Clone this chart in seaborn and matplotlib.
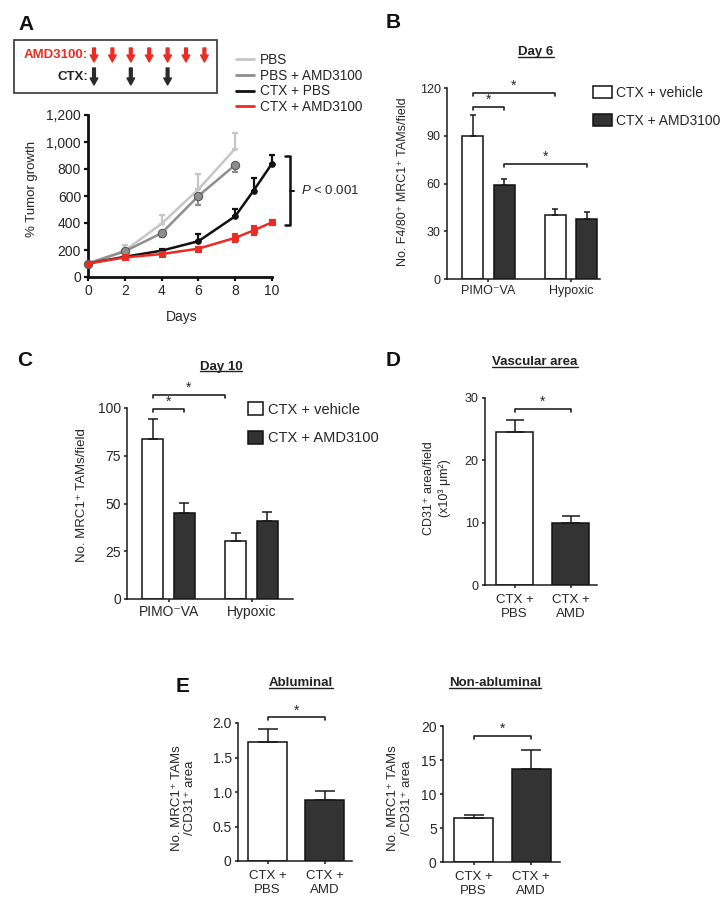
import numpy as np
import pandas as pd
import matplotlib
matplotlib.use('Agg')
import matplotlib.pyplot as plt
import matplotlib.transforms as mtransforms
from matplotlib.patches import Patch, Rectangle
from matplotlib.lines import Line2D
from matplotlib.ticker import StrMethodFormatter
import seaborn as sns

sns.set_style('ticks')
plt.rcParams['font.family'] = ['Liberation Sans', 'DejaVu Sans']
plt.rcParams['mathtext.fontset'] = 'custom'
plt.rcParams['mathtext.it'] = 'Liberation Sans:italic'
plt.rcParams['mathtext.rm'] = 'Liberation Sans'

# ---- panel A : tumour growth curves ----
days_long = [0, 2, 4, 6, 8, 9, 10]
days_short = [0, 2, 4, 6, 8]
pbs = [100, 195, 395, 650, 950]
pbs_hi = [0, 40, 65, 110, 120]
pbs_amd = [100, 190, 325, 600, 830]
pbs_amd_lo = [0, 20, 25, 65, 55]
ctx_pbs = [100, 150, 195, 265, 450, 640, 840]
ctx_pbs_hi = [0, 0, 15, 50, 55, 90, 65]
ctx_amd = [100, 145, 170, 210, 290, 345, 405]
ctx_amd_err = [0, 10, 10, 15, 30, 35, 20]
amd_dose_days = [0, 1, 2, 3, 4, 5, 6]
ctx_dose_days = [0, 2, 4]

# ---- panels B / C : TAM counts ----
sites = ['PIMO\u207bVA', 'Hypoxic']
treatments = ['CTX + vehicle', 'CTX + AMD3100']
day6_vehicle = [90, 40]
day6_vehicle_err = [13, 4.2]
day6_amd = [59, 38]
day6_amd_err = [4, 4]
day10_vehicle = [84, 30.5]
day10_vehicle_err = [10, 4.2]
day10_amd = [45, 41]
day10_amd_err = [5.2, 4.3]

# ---- panels D / E ----
conditions = ['CTX +\nPBS', 'CTX +\nAMD']
vasc = [24.6, 10.0]
vasc_err = [1.8, 1.05]
ablum = [1.72, 0.89]
ablum_err = [0.19, 0.13]
nonablum = [6.5, 13.7]
nonablum_err = [0.4, 2.8]

RED = '#ec2b24'
DARK = '#333333'
W, H = 728, 914
fig = plt.figure(figsize=(W / 100, H / 100), dpi=100)


def px_box(l, t, r, b):
    return [l / W, 1 - b / H, (r - l) / W, (b - t) / H]


def fx(x):
    return x / W


def fy(y):
    return 1 - y / H


def style_axes(ax, lw=1.1, size=9):
    sns.despine(ax=ax)
    for s in ['left', 'bottom']:
        ax.spines[s].set_linewidth(lw)
        ax.spines[s].set_color('#1a1a1a')
    ax.tick_params(direction='out', length=2.5, width=lw, labelsize=size,
                   color='#1a1a1a', pad=2)
    ax.set_xlabel('')
    ax.set_ylabel('')


def add_errors(ax, errs, capsize):
    for bar, e in zip(ax.patches, errs):
        x = bar.get_x() + bar.get_width() / 2
        ax.errorbar(x, bar.get_height(), yerr=[[0], [e]], fmt='none',
                    ecolor='#1a1a1a', elinewidth=1.1, capsize=capsize,
                    capthick=1.1, zorder=1)


def add_brackets(ax, specs, px_per_unit, fs=10):
    drop = 3 / px_per_unit
    for i, j, y, side in specs:
        b1, b2 = ax.patches[i], ax.patches[j]
        x1 = b1.get_x() + b1.get_width() / 2
        x2 = b2.get_x() + (b2.get_width() / 2 if side == 'c' else 0)
        ax.plot([x1, x1, x2, x2], [y - drop, y, y, y - drop], color='#222',
                lw=1.2, clip_on=False)
        ax.annotate('*', xy=((x1 + x2) / 2, y), xytext=(0, 5),
                    textcoords='offset points', ha='center', va='center',
                    fontsize=fs, annotation_clip=False)


def title(x, y, s):
    return fig.text(fx(x), fy(y), s, ha='center', va='center', fontsize=9.5,
                    fontweight='bold', color='#222',
                    family=['Liberation Sans Narrow', 'Liberation Sans', 'DejaVu Sans'])


def panel_label(x, y, s):
    fig.text(fx(x), fy(y), s, ha='center', va='center', fontsize=15,
             fontweight='bold', color='#111')


# ================= Panel A =================
axA = fig.add_axes(px_box(88, 115, 272, 277))
series = [
    ('PBS', days_short, pbs, [0] * 5, pbs_hi, '#c6c6c6', '.', 3),
    ('PBS + AMD3100', days_short, pbs_amd, pbs_amd_lo, [0] * 5, '#8e8e8e', 'o', 6),
    ('CTX + PBS', days_long, ctx_pbs, [0] * 7, ctx_pbs_hi, '#111111', 'o', 4),
    ('CTX + AMD3100', days_long, ctx_amd, ctx_amd_err, ctx_amd_err, RED, 's', 4),
]
for name, d, v, lo, hi, c, m, ms in series:
    axA.errorbar(d, v, yerr=[lo, hi], fmt='none', ecolor=c, elinewidth=1.6,
                 capsize=2, capthick=1.6, clip_on=False, zorder=2)
    sns.lineplot(x=d, y=v, color=c, marker=m, markersize=ms, lw=1.8,
                 markeredgecolor='#555' if name == 'PBS + AMD3100' else c,
                 ax=axA, clip_on=False, zorder=3)
axA.set_xlim(0, 10)
axA.set_ylim(0, 1200)
axA.set_xticks(range(0, 11, 2))
axA.set_yticks(range(0, 1201, 200))
axA.yaxis.set_major_formatter(StrMethodFormatter('{x:,.0f}'))
sns.despine(ax=axA)
for s in ['left', 'bottom']:
    axA.spines[s].set_linewidth(2)
    axA.spines[s].set_color('#111')
axA.tick_params(direction='out', length=3, width=1.6, labelsize=10, pad=2, color='#111')
axA.set_xlabel('')
axA.set_ylabel('')
fig.text(fx(32), fy(189), '% Tumor growth', rotation=90, ha='center', va='center', fontsize=9.5)
fig.text(fx(182), fy(317), 'Days', ha='center', va='center', fontsize=10)

# P-value bracket
axA.plot([10.7, 11.0, 11.0, 10.7], [895, 895, 383, 383], color='#111', lw=1.8, clip_on=False)
axA.plot([11.0, 11.2], [640, 640], color='#111', lw=1.4, clip_on=False)
axA.text(11.6, 640, r'$P$ < 0.001', ha='left', va='center', fontsize=9.5, clip_on=False)

lg = fig.legend([Line2D([], [], color=s[5], lw=2) for s in series],
                [s[0] for s in series], loc='upper left',
                bbox_to_anchor=(fx(236), fy(53)), frameon=False, fontsize=9.8,
                handlelength=1.35, handletextpad=0.4, labelspacing=0.12,
                borderpad=0, borderaxespad=0)

# dosing schedule box
fig.add_artist(Rectangle((fx(14), fy(93)), (217 - 14) / W, (93 - 40) / H,
                         transform=fig.transFigure, fill=False, ec='#444', lw=1.3))
fig.text(fx(88), fy(55), 'AMD3100:', ha='right', va='center', fontsize=9.5,
         fontweight='bold', color=RED)
fig.text(fx(88), fy(77), 'CTX:', ha='right', va='center', fontsize=9.5,
         fontweight='bold', color='#222')
arr_trans = mtransforms.offset_copy(
    mtransforms.blended_transform_factory(axA.transData, fig.transFigure),
    fig=fig, x=6, y=0, units='dots')
arrow_kw = dict(arrowstyle='simple,head_length=0.5,head_width=0.55,tail_width=0.2',
                mutation_scale=10, shrinkA=0, shrinkB=0)
for d in amd_dose_days:
    axA.annotate('', xy=(d, fy(62)), xytext=(d, fy(48)), xycoords=arr_trans,
                 textcoords=arr_trans, annotation_clip=False,
                 arrowprops=dict(color=RED, **arrow_kw))
for d in ctx_dose_days:
    axA.annotate('', xy=(d, fy(85)), xytext=(d, fy(68)), xycoords=arr_trans,
                 textcoords=arr_trans, annotation_clip=False,
                 arrowprops=dict(color='#2a2a2a', **arrow_kw))


# ================= Panels B and C =================
def grouped_panel(box, vehicle, amd, verr, aerr, ymax, step, xlim, size, capsize):
    ax = fig.add_axes(px_box(*box))
    df = pd.DataFrame({
        'site': sites * 2,
        'treatment': [treatments[0]] * 2 + [treatments[1]] * 2,
        'value': vehicle + amd,
    })
    sns.barplot(data=df, x='site', y='value', hue='treatment', order=sites,
                hue_order=treatments, palette={treatments[0]: 'white', treatments[1]: DARK},
                edgecolor='#111', linewidth=1.1, width=0.76, gap=0.33,
                errorbar=None, legend=False, saturation=1, ax=ax)
    add_errors(ax, verr + aerr, capsize)
    ax.set_ylim(0, ymax)
    ax.set_yticks(np.arange(0, ymax + 0.1, step))
    ax.set_xlim(*xlim)
    style_axes(ax, size=size)
    return ax


axB = grouped_panel((447, 88, 600, 279), day6_vehicle, day6_amd, day6_vehicle_err,
                    day6_amd_err, 120, 30, (-0.5, 1.35), 9, 2.5)
add_brackets(axB, [(0, 2, 108, 'c'), (0, 1, 117, 'c'), (2, 3, 72.5, 'c')], 191 / 120)
fig.text(fx(403), fy(182), 'No. F4/80\u207a MRC1\u207a TAMs/field', rotation=90,
         ha='center', va='center', fontsize=9)
fig.legend([Patch(facecolor='white', edgecolor='#111', lw=1.1),
            Patch(facecolor=DARK, edgecolor='#111', lw=1.1)], treatments,
           loc='upper left', bbox_to_anchor=(fx(593), fy(86)), frameon=False,
           fontsize=10, handlelength=1.37, handleheight=1.0, handletextpad=0.25,
           labelspacing=1.0, borderpad=0, borderaxespad=0)

axC = grouped_panel((127, 408, 293, 599), day10_vehicle, day10_amd, day10_vehicle_err,
                    day10_amd_err, 100, 25, (-0.5, 1.5), 10, 3.5)
add_brackets(axC, [(0, 2, 99.6, 'c'), (0, 1, 107, 'l')], 191 / 100)
fig.text(fx(82), fy(495), 'No. MRC1\u207a TAMs/field', rotation=90,
         ha='center', va='center', fontsize=9.5)
fig.legend([Patch(facecolor='white', edgecolor='#111', lw=1.1),
            Patch(facecolor=DARK, edgecolor='#111', lw=1.1)], treatments,
           loc='upper left', bbox_to_anchor=(fx(248), fy(402)), frameon=False,
           fontsize=10.5, handlelength=1.03, handleheight=1.03, handletextpad=0.35,
           labelspacing=0.95, borderpad=0, borderaxespad=0)


# ================= Panels D and E =================
def pair_panel(box, values, errs, ymax, step, xlim, size, capsize, width, fmt=None):
    ax = fig.add_axes(px_box(*box))
    sns.barplot(x=conditions, y=values, hue=conditions, palette=['white', DARK],
                edgecolor='#111', linewidth=1.1, width=width, errorbar=None,
                legend=False, saturation=1, ax=ax)
    add_errors(ax, errs, capsize)
    ax.set_ylim(0, ymax)
    ax.set_yticks(np.arange(0, ymax + step / 10, step))
    if fmt:
        ax.yaxis.set_major_formatter(StrMethodFormatter(fmt))
    ax.set_xlim(*xlim)
    style_axes(ax, size=size)
    ax.tick_params(axis='x', labelsize=9.5, pad=4)
    return ax


axD = pair_panel((485, 398, 597, 585), vasc, vasc_err, 30, 10, (-0.527, 1.473), 9, 6.5, 0.66)
add_brackets(axD, [(0, 1, 28.2, 'c')], 187 / 30)
fig.text(fx(437), fy(488), 'CD31\u207a area/field\n(x10\u00b3 \u03bcm\u00b2)', rotation=90,
         ha='center', va='center', fontsize=9, linespacing=1.25)

axE1 = pair_panel((238, 723, 352, 861), ablum, ablum_err, 2.0, 0.5, (-0.518, 1.48), 10, 7,
                  0.68, fmt='{x:.1f}')
axE1.set_yticklabels(['0', '0.5', '1.0', '1.5', '2.0'])
add_brackets(axE1, [(0, 1, 2.08, 'c')], 138 / 2.0)
fig.text(fx(183.5), fy(798), 'No. MRC1\u207a TAMs\n/CD31\u207a area', rotation=90,
         ha='center', va='center', fontsize=9.5, linespacing=1.2)

axE2 = pair_panel((443, 726, 560, 862), nonablum, nonablum_err, 20, 5, (-0.53, 1.5), 10, 7, 0.68)
add_brackets(axE2, [(0, 1, 18.5, 'c')], 136 / 20)
fig.text(fx(400), fy(798), 'No. MRC1\u207a TAMs\n/CD31\u207a area', rotation=90,
         ha='center', va='center', fontsize=9.5, linespacing=1.2)

# panel labels and underlined titles
panel_label(26, 25, 'A')
panel_label(393, 23, 'B')
panel_label(25, 360, 'C')
panel_label(393, 360, 'D')
panel_label(183, 687, 'E')
titles = [title(536, 52, 'Day 6'), title(221, 367, 'Day 10'),
          title(535, 362, 'Vascular area'), title(301, 683, 'Abluminal'),
          title(495, 683, 'Non-abluminal')]
fig.canvas.draw()
inv = fig.transFigure.inverted()
for t in titles:
    bb = t.get_window_extent()
    (x0, y0), (x1, y1) = inv.transform([(bb.x0, bb.y0 + 1.5), (bb.x1, bb.y0 + 1.5)])
    fig.add_artist(Line2D([x0, x1], [y0, y1], transform=fig.transFigure, color='#222', lw=1.0))

fig.savefig('out.png', dpi=100)
